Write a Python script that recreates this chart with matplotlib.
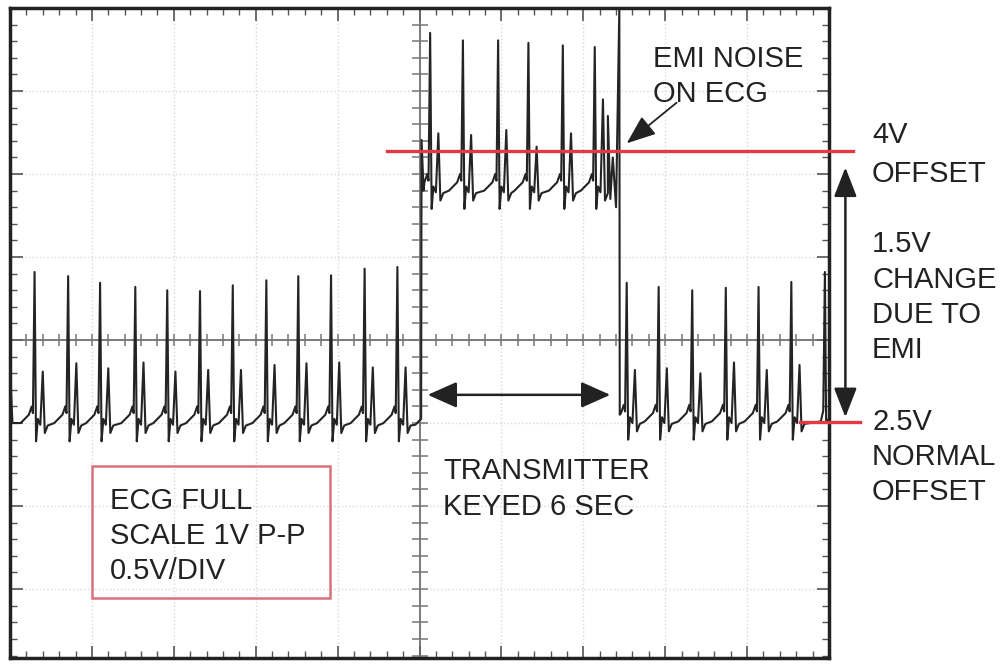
import numpy as np
import matplotlib
matplotlib.use("Agg")
import matplotlib.pyplot as plt
from matplotlib.patches import Rectangle

# oscilloscope units: x and y in screen divisions (centre line at y=0)

# one heartbeat: time offset from R peak, level offset from baseline
# (R and T levels are filled per beat)
BEAT_DT = [-0.17, -0.07, -0.035, -0.02, 0.0, 0.018, 0.04, 0.07, 0.1, 0.125, 0.16]
BEAT_DV = [0.0, 0.10, 0.20, 0.12, None, -0.22, 0.05, -0.02, None, -0.12, -0.03]

# normal trace before the transmitter is keyed
left_r_t = [0.30, 0.71, 1.10, 1.53, 1.92, 2.32, 2.72, 3.13, 3.52, 3.92, 4.33, 4.73]
left_r_v = [0.82, 0.77, 0.69, 0.64, 0.60, 0.59, 0.66, 0.72, 0.77, 0.78, 0.86, 0.88]
left_t_v = [-0.38, -0.28, -0.34, -0.27, -0.38, -0.36, -0.36, -0.30, -0.28, -0.27, -0.33, -0.33]
left_base = -1.0

# trace with EMI (transmitter keyed)
emi_r_t = [5.13, 5.53, 5.96, 6.33, 6.75, 7.14]
emi_r_v = [3.70, 3.61, 3.61, 3.58, 3.55, 3.53]
emi_t_v = [2.49, 2.47, 2.53, 2.33, 2.49, 2.90]
emi_base = 1.8

# back to normal
right_r_t = [7.53, 7.92, 8.33, 8.74, 9.14, 9.54]
right_r_v = [0.69, 0.64, 0.60, 0.63, 0.64, 0.70]
right_t_v = [-0.36, -0.34, -0.40, -0.27, -0.36, -0.30]
right_base = -0.98

# hand-read pieces between the beats
start_pts = [(0.0, -0.33), (0.03, -1.0)]
step_up_pts = [(4.95, -1.02), (5.02, -0.95), (5.025, 2.41), (5.05, 1.8)]
emi_tail_pts = [(7.30, 2.70), (7.33, 1.70), (7.36, 2.20), (7.40, 1.60), (7.44, 4.0), (7.445, -0.9)]
end_pts = [(9.90, -0.98), (9.93, -0.85), (9.95, 0.82), (9.965, -0.98), (10.0, -0.95)]

upper_offset = 2.28   # 4V offset line
lower_offset = -0.99  # 2.5V normal offset line


def beats(r_t, r_v, t_v, base, t_min):
    pts = []
    for t, rv, tv in zip(r_t, r_v, t_v):
        for dt, dv in zip(BEAT_DT, BEAT_DV):
            if dv is None:
                v = rv if dt == 0.0 else tv
            else:
                v = base + dv
            if t + dt > t_min:
                pts.append((t + dt, v))
    return pts


trace = (start_pts
         + beats(left_r_t, left_r_v, left_t_v, left_base, 0.03)
         + step_up_pts
         + beats(emi_r_t, emi_r_v, emi_t_v, emi_base, 5.05)
         + emi_tail_pts
         + beats(right_r_t, right_r_v, right_t_v, right_base, 7.445)
         + end_pts)
tx = np.array([p[0] for p in trace])
ty = np.array([p[1] for p in trace])

W, H = 1005, 664
fig = plt.figure(figsize=(W / 100, H / 100), dpi=100)
ax = fig.add_axes([10 / W, (H - 658) / H, (829 - 10) / W, (658 - 8) / H])
ax.set_xlim(0, 10)
ax.set_ylim(-3.83, 4.0)

# graticule
ax.set_xticks(np.arange(0, 11, 1))
ax.set_yticks(np.arange(-3, 5, 1))
ax.set_xticks(np.arange(0, 10.01, 0.2), minor=True)
ax.set_yticks(np.arange(-3.8, 4.01, 0.2), minor=True)
ax.tick_params(which="both", direction="in", top=True, right=True,
               labelbottom=False, labelleft=False, color="#555555")
ax.tick_params(which="major", length=9, width=1.2)
ax.tick_params(which="minor", length=5, width=1.0)
ax.grid(which="major", color="#d8d8d8", linestyle=":", linewidth=1.0)
for s in ax.spines.values():
    s.set_linewidth(2.5)
    s.set_color("#222222")

ax.axhline(0, color="#666666", lw=1.2, zorder=2)
ax.axvline(5, color="#666666", lw=1.2, zorder=2)
ax.plot(np.arange(0.2, 10, 0.2), np.zeros(49), ls="none", marker="|", ms=9,
        mew=1.1, color="#777777", zorder=2)
ax.plot(np.full(39, 5.0), np.arange(-3.8, 4.0, 0.2), ls="none", marker="_", ms=11,
        mew=1.1, color="#777777", zorder=2)

# ECG trace
ax.plot(tx, ty, color="#242424", lw=1.5, zorder=4)

# offset markers
ax.plot([4.60, 10.29], [upper_offset, upper_offset], color="#e23a44", lw=2.4,
        clip_on=False, zorder=5)
ax.plot([9.65, 10.38], [lower_offset, lower_offset], color="#e23a44", lw=2.4,
        clip_on=False, zorder=5)

# arrows
ax.annotate("", xy=(10.2, 2.08), xytext=(10.2, -0.93), annotation_clip=False,
            arrowprops=dict(arrowstyle="<|-|>,head_length=0.9,head_width=0.35",
                            mutation_scale=20, color="#222222", lw=1.8,
                            shrinkA=0, shrinkB=0))
ax.annotate("", xy=(5.10, -0.66), xytext=(7.33, -0.66),
            arrowprops=dict(arrowstyle="<|-|>,head_length=0.9,head_width=0.4",
                            mutation_scale=20, color="#222222", lw=1.8,
                            shrinkA=0, shrinkB=0))
ax.annotate("", xy=(7.53, 2.37), xytext=(8.14, 2.86),
            arrowprops=dict(arrowstyle="-|>,head_length=0.9,head_width=0.35",
                            mutation_scale=20, color="#222222", lw=1.3,
                            shrinkA=0, shrinkB=0))

# scale box
ax.add_patch(Rectangle((1.0, -3.11), 2.91, 1.59, fill=False, ec="#d9707a",
                       lw=1.8, zorder=5))

font = dict(family="Liberation Sans", fontsize=21, color="#222222", va="baseline")


def label(x, y, s):
    fig.text(x / W, 1 - y / H, s, **font)


label(653, 67, "EMI NOISE")
label(653, 102, "ON ECG")
label(443, 479, "TRANSMITTER")
label(443, 515, "KEYED 6 SEC")
label(110, 509, "ECG FULL")
label(110, 544, "SCALE 1V P-P")
label(110, 579, "0.5V/DIV")
for y, s in [(143, "4V"), (182, "OFFSET"), (252, "1.5V"), (288, "CHANGE"),
             (323, "DUE TO"), (358, "EMI"), (430, "2.5V"), (465, "NORMAL"),
             (500, "OFFSET")]:
    label(872, y, s)

fig.savefig("out.png", dpi=100)
